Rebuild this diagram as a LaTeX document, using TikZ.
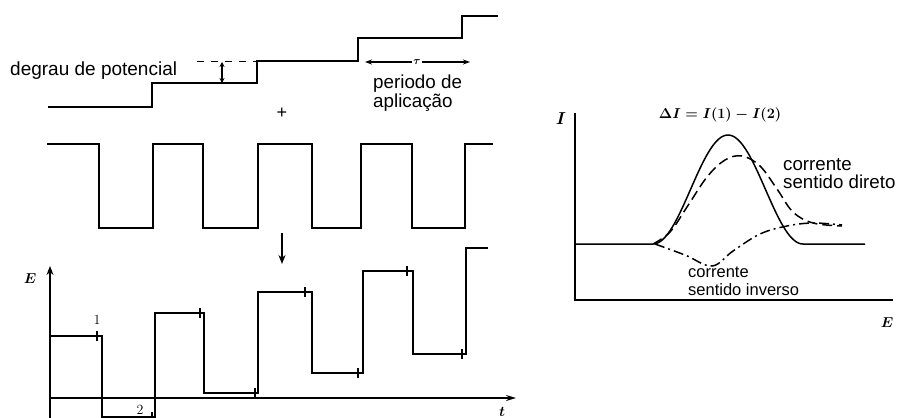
\documentclass[tikz,border=0pt]{standalone}
\usepackage{fontspec}
\setmainfont{Liberation Sans}
\newfontfamily\lmr{Latin Modern Roman}
\usetikzlibrary{arrows.meta}
\begin{document}
\begin{tikzpicture}[x=1pt,y=-1pt,
  wave/.style={line width=1.7pt, line join=miter},
  axisline/.style={line width=1.5pt},
  curve/.style={line width=1.5pt},
  tickmark/.style={line width=1.1pt},
  txt/.style={inner sep=0pt, anchor=base west, font=\fontsize{18.5}{19}\selectfont},
  axlbl/.style={inner sep=0pt, font=\fontsize{14}{14}\selectfont\boldmath},
  numlbl/.style={inner sep=0pt, font=\fontsize{14}{14}\selectfont\lmr}]
\useasboundingbox (0,0) rectangle (898,418);
% ---------- staircase ----------
\draw[wave] (48,107) -- (152,107) -- (152,83) -- (257,83) -- (257,61) -- (358,61)
  -- (358,38) -- (462,38) -- (462,16) -- (498,16);
\draw[line width=1pt, dash pattern=on 7pt off 7pt] (197,61) -- (257,61);
\draw[line width=1.2pt, {Stealth[length=5pt,width=5pt]}-{Stealth[length=5pt,width=5pt]}] (222,62) -- (222,83);
\node[txt, font=\fontsize{19}{19}\selectfont] (degrau) at (10,75) {degrau de potencial};
\node[inner sep=1pt, fill=white, font=\fontsize{11}{11}\selectfont\boldmath] (tau) at (417,62) {$\tau$};
\coordinate (tauL) at (365,62);
\coordinate (tauR) at (470,62);
\draw[line width=1.2pt, -{Stealth[length=7pt,width=5pt]}] (tau.west) -- (tauL);
\draw[line width=1.2pt, -{Stealth[length=7pt,width=5pt]}] (tau.east) -- (tauR);
\node[txt, align=left, anchor=north west, font=\fontsize{18.8}{17.5}\selectfont] (periodo) at (373,75) {periodo de\\aplicação};
\node[inner sep=0pt, font=\fontsize{18}{18}\selectfont] (plus) at (282,113) {+};
% ---------- square wave ----------
\draw[wave] (47,144) -- (99,144) -- (99,228) -- (153,228) -- (153,144) -- (203,144)
  -- (203,228) -- (258,228) -- (258,144) -- (312,144) -- (312,228) -- (361,228)
  -- (361,144) -- (412,144) -- (412,228) -- (465,228) -- (465,144) -- (493,144);
\coordinate (arrTop) at (282,233);
\coordinate (arrBot) at (282,264);
\draw[line width=1.5pt, -{Stealth[length=9pt,width=7pt]}] (arrTop) -- (arrBot);
% ---------- combined waveform ----------
\coordinate (O) at (50,398);
\coordinate (Etop) at (50,266);
\coordinate (Ebot) at (50,418);
\coordinate (tend) at (516,398);
\draw[axisline, -{Stealth[length=9pt,width=7pt]}] (Ebot) -- (Etop);
\draw[axisline, -{Stealth[length=10pt,width=6pt]}] (O) -- (tend);
\node[axlbl] (Elbl) at (30,279) {$E$};
\node[axlbl] (tlbl) at (502,412) {$t$};
\draw[wave] (50,336) -- (102,336) -- (102,417) -- (155,417) -- (155,313) -- (204,313)
  -- (204,393) -- (258,393) -- (258,292) -- (312,292) -- (312,373) -- (363,373)
  -- (363,271) -- (413,271) -- (413,354) -- (466,354) -- (466,248) -- (488,248);
\foreach \tx/\ty in {97/336, 152/417, 200/313, 255/393, 305/292, 358/373, 407/271, 462/354}
  \draw[tickmark] (\tx,\ty-5) -- (\tx,\ty+5);
\node[numlbl] (one) at (97,320) {1};
\node[numlbl] (two) at (140,410) {2};
% ---------- right plot ----------
\coordinate (Itop) at (575,113);
\coordinate (origin) at (575,300);
\coordinate (Eend) at (893,300);
\draw[axisline] (Itop) -- (origin) -- (Eend);
\node[axlbl, font=\fontsize{17}{17}\selectfont\boldmath] (Ilbl) at (561,119) {$I$};
\node[axlbl] (E2lbl) at (887,323) {$E$};
\node[inner sep=0pt, font=\fontsize{14}{14}\selectfont\boldmath] (title) at (720,115) {$\Delta I = I(1) - I(2)$};
\draw[curve] (575,244) -- (653,244) -- plot[domain=653:803, samples=80, smooth]
  (\x,{244-109*(0.5+0.5*cos(180*(\x-728)/75))}) -- (865,244);
\draw[curve, dash pattern=on 10pt off 5pt] plot[smooth, tension=0.6] coordinates
  {(653,244) (670,232) (687,207) (707,177) (725,160) (742,156) (760,166) (777,189) (793,212) (813,223) (842,226)};
\draw[curve, dash pattern=on 10pt off 4pt on 2pt off 4pt] plot[smooth, tension=0.6] coordinates
  {(655,244) (685,255) (712,266) (733,251) (760,234) (787,226) (813,223) (842,225)};
\node[txt, align=left, anchor=north west, font=\fontsize{18.7}{18}\selectfont] (direto) at (783,158) {corrente\\sentido direto};
\node[txt, align=left, anchor=north west, font=\fontsize{16.5}{18}\selectfont] (inverso) at (688,267) {corrente\\sentido inverso};
\end{tikzpicture}
\end{document}
